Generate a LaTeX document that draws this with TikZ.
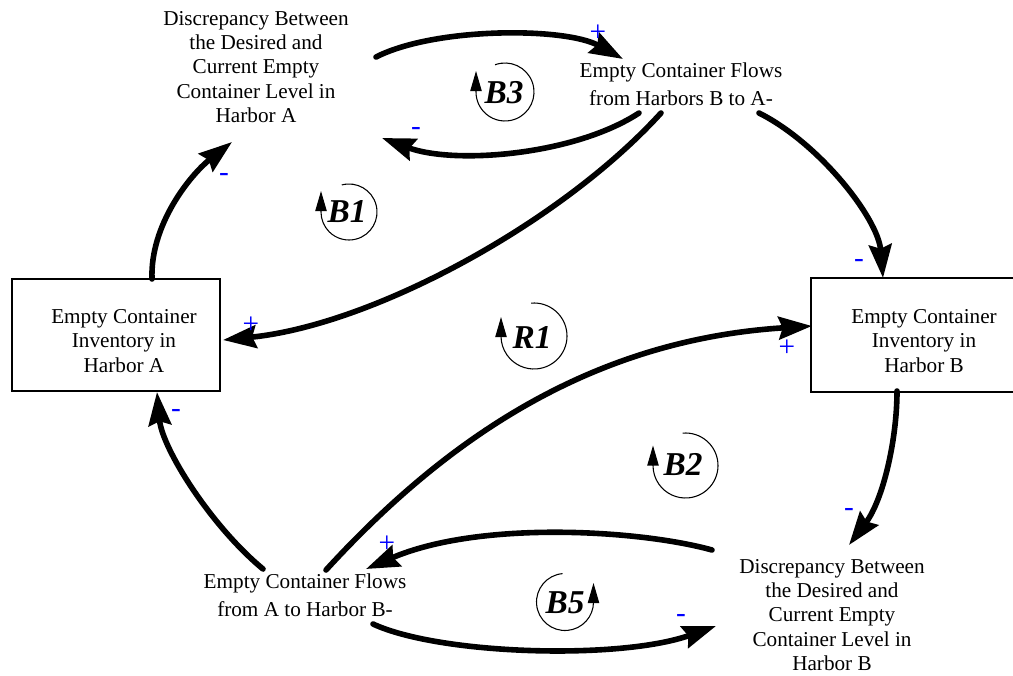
\documentclass[tikz,border=0pt]{standalone}
\usepackage{fontspec}
\setmainfont{Liberation Serif}
\usetikzlibrary{arrows.meta,calc}
\begin{document}
\begin{tikzpicture}[x=0.75pt,y=-0.75pt,
  txt/.style={font=\fontsize{15.9}{18.2}\selectfont, align=center, inner sep=0pt},
  flowtxt/.style={font=\fontsize{15.9}{21.25}\selectfont, align=center, inner sep=0pt},
  stock/.style={line width=1.5pt, minimum width=156pt, minimum height=84pt, inner sep=0pt},
  link/.style={line width=4.2pt, line cap=round, -{Stealth[length=25pt,width=17pt,inset=3pt]}},
  pol/.style={text=blue, font=\fontsize{22}{22}\selectfont, inner sep=0pt},
  looptxt/.style={font=\fontsize{25}{25}\selectfont\bfseries\itshape, inner sep=0pt},
  loopline/.style={line width=0.8pt, -{Triangle[length=15pt,width=8.5pt]}}
]
\useasboundingbox (0,0) rectangle (1013,675);

% variables
\node[txt] (discA) at (256,67) {Discrepancy Between\\the Desired and\\Current Empty\\Container Level in\\Harbor A};
\node[flowtxt] (flowBA) at (681,84) {Empty Container Flows\\from Harbors B to A-};
\node[stock, draw] (boxA) at (116,335) {};
\node[txt] (boxAt) at (124,341) {Empty Container\\Inventory in\\Harbor A};
\node[stock] (boxB) at (916,335) {};
\node[txt] (boxBt) at (924,341) {Empty Container\\Inventory in\\Harbor B};
\coordinate (edge) at (1013,0);
\draw[line width=1.5pt] (boxB.north west -| edge) -- (boxB.north west) -- (boxB.south west) -- (boxB.south west -| edge);
\node[flowtxt] (flowAB) at (305,595) {Empty Container Flows\\from A to Harbor B-};
\node[txt] (discB) at (832,615) {Discrepancy Between\\the Desired and\\Current Empty\\Container Level in\\Harbor B};

% links
\draw[link] ($(discA)+(120,-10)$) .. controls +(59,-30) and +(-58,-32) .. ($(flowBA)+(-58,-25)$);
\draw[link] ($(flowBA)+(-42,29)$) .. controls +(-64,42) and +(73,27) .. ($(discA)+(126,71)$);
\draw[link] ($(flowBA)+(-20,29)$) .. controls +(-100,110) and +(150,-15) .. ($(boxA)+(107,5)$);
\draw[link] ($(flowBA)+(78,29)$) .. controls +(60,30) and +(-5,-60) .. ($(boxB)+(-33,-57)$);
\draw[link] ($(boxA)+(36,-56)$) .. controls +(-2,-54) and +(-42,33) .. ($(discA)+(-24,75)$);
\draw[link] ($(flowAB)+(-42,-26)$) .. controls +(-53,-44) and +(5,56) .. ($(boxA)+(41,57)$);
\draw[link] ($(flowAB)+(21,-25)$) .. controls +(119,-130) and +(-222,14) .. ($(boxB)+(-104,-9)$);
\draw[link] ($(boxB)+(-19,56)$) .. controls +(0,49) and +(34,-45) .. ($(discB)+(17,-70)$);
\draw[link] ($(discB)+(-120,-65)$) .. controls +(-72,-20) and +(114,-49) .. ($(flowAB)+(61,-26)$);
\draw[link] ($(flowAB)+(68,29)$) .. controls +(67,31) and +(-96,34) .. ($(discB)+(-116,11)$);

% polarities
\node[pol] (p1) at (598,33) {+};
\node[pol] (p2) at (251,325) {+};
\node[pol] (p3) at (787,348) {+};
\node[pol] (p4) at (387,544) {+};
\node[pol] (m1) at (224,177) {-};
\node[pol] (m2) at (416,131) {-};
\node[pol] (m3) at (859,263) {-};
\node[pol] (m4) at (176,413) {-};
\node[pol] (m5) at (849,512) {-};
\node[pol] (m6) at (681,618) {-};

% loop identifiers
\node[looptxt] (B3) at (504,93) {B3};
\draw[loopline] ($(B3)+(1,-1)+(-110:29)$) arc[start angle=-110, end angle=180, radius=29] -- ++(0,-21);
\node[looptxt] (B1) at (347,212) {B1};
\draw[loopline] ($(B1)+(2,0)+(-105:28)$) arc[start angle=-105, end angle=180, radius=28] -- ++(0,-21);
\node[looptxt] (R1) at (532,337) {R1};
\draw[loopline] ($(R1)+(2,-1)+(-95:33)$) arc[start angle=-95, end angle=180, radius=33] -- ++(0,-19);
\node[looptxt] (B2) at (683,465) {B2};
\draw[loopline] ($(B2)+(2.5,0.5)+(-95:32.5)$) arc[start angle=-95, end angle=180, radius=32.5] -- ++(0,-20);
\node[looptxt] (B5) at (565,603) {B5};
\draw[loopline] ($(B5)+(0,-1)+(-95:28.5)$) arc[start angle=-95, end angle=-360, radius=28.5] -- ++(0,-19);
\end{tikzpicture}
\end{document}
